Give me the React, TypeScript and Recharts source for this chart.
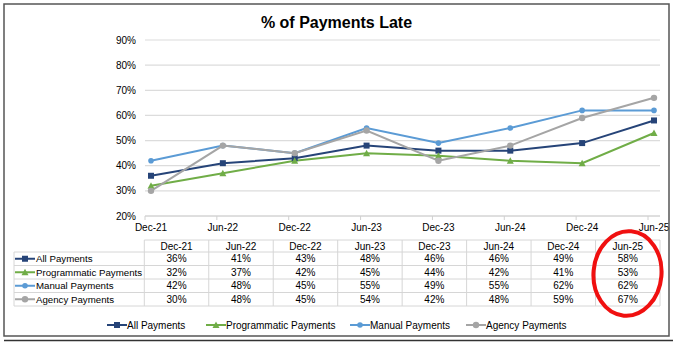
import React from 'react';
import { LineChart, Line, XAxis, YAxis, CartesianGrid } from 'recharts';

const categories = ['Dec-21', 'Jun-22', 'Dec-22', 'Jun-23', 'Dec-23', 'Jun-24', 'Dec-24', 'Jun-25'];
const allPayments = [36, 41, 43, 48, 46, 46, 49, 58];
const programmaticPayments = [32, 37, 42, 45, 44, 42, 41, 53];
const manualPayments = [42, 48, 45, 55, 49, 55, 62, 62];
const agencyPayments = [30, 48, 45, 54, 42, 48, 59, 67];
const yTicks = [20, 30, 40, 50, 60, 70, 80, 90];

const FONT = '"Liberation Sans", Arial, sans-serif';

type SeriesDef = { key: string; name: string; values: number[]; color: string; marker: 'square' | 'triangle' | 'circle' | 'circleL' };
const series: SeriesDef[] = [
  { key: 'all', name: 'All Payments', values: allPayments, color: '#264478', marker: 'square' },
  { key: 'prog', name: 'Programmatic Payments', values: programmaticPayments, color: '#70AD47', marker: 'triangle' },
  { key: 'manual', name: 'Manual Payments', values: manualPayments, color: '#5B9BD5', marker: 'circle' },
  { key: 'agency', name: 'Agency Payments', values: agencyPayments, color: '#A5A5A5', marker: 'circleL' },
];

const data = categories.map((c, i) => {
  const row: Record<string, any> = { cat: c };
  series.forEach((s) => { row[s.key] = s.values[i]; });
  return row;
});

function Marker({ type, cx, cy, color }: { type: string; cx: number; cy: number; color: string }) {
  if (type === 'square') return <rect x={cx - 3} y={cy - 3} width={6} height={6} fill={color} />;
  if (type === 'triangle') return <polygon points={`${cx},${cy - 3.5} ${cx + 3.5},${cy + 3} ${cx - 3.5},${cy + 3}`} fill={color} />;
  if (type === 'circle') return <circle cx={cx} cy={cy} r={2.8} fill={color} />;
  return <circle cx={cx} cy={cy} r={3.2} fill={color} />;
}

const makeDot = (s: SeriesDef) => (props: any) => {
  const { cx, cy, index } = props;
  if (cx == null || cy == null) return <g key={index} />;
  return <Marker key={index} type={s.marker} cx={cx} cy={cy} color={s.color} />;
};

const XTick = (props: any) => {
  const { x, y, payload } = props;
  return (
    <g>
      <line x1={x - 6} x2={x - 6} y1={y - 8} y2={y - 4} stroke="#d0d0d0" strokeWidth={1} />
      <text x={x} y={y} dy="0.71em" textAnchor="middle" fontSize={10} fill="#000" fontFamily={FONT}>{payload.value}</text>
    </g>
  );
};

const YTick = (props: any) => {
  const { y, payload } = props;
  return (
    <text x={136} y={y} dy="0.35em" textAnchor="end" fontSize={10} fill="#000" fontFamily={FONT}>{payload.value}%</text>
  );
};

function KeyIcon({ s, x, y }: { s: SeriesDef; x: number; y: number }) {
  return (
    <g>
      <line x1={x} x2={x + 20} y1={y} y2={y} stroke={s.color} strokeWidth={2} />
      <Marker type={s.marker} cx={x + 10} cy={y} color={s.color} />
    </g>
  );
}

export default function App() {
  const tableLeft = 14;
  const labelColRight = 144.3;
  const colW = (660 - labelColRight) / categories.length;
  const headTop = 240;
  const headBottom = 252;
  const rowH = 13.5;
  const tableBottom = headBottom + rowH * series.length;
  const legendItems = [
    { s: series[0], textX: 127 },
    { s: series[1], textX: 226 },
    { s: series[2], textX: 370 },
    { s: series[3], textX: 486 },
  ];
  return (
    <div style={{ position: 'absolute', left: 0, top: 0, width: 673, height: 342, background: '#fff', overflow: 'hidden' }}>
      <div style={{ position: 'absolute', left: 0, top: 0 }}>
        <LineChart width={673} height={342} data={data} margin={{ top: 40, right: 13, bottom: 96, left: 85 }}>
          <CartesianGrid horizontal vertical={false} stroke="#dcdcdc" strokeWidth={1.2} />
          <XAxis
            dataKey="cat"
            height={30}
            padding={{ left: 6, right: 6 }}
            tickLine={false}
            axisLine={{ stroke: '#d0d0d0' }}
            tick={<XTick />}
            interval={0}
          />
          <YAxis
            width={60}
            domain={[20, 90]}
            ticks={yTicks}
            tickLine={false}
            axisLine={false}
            tick={<YTick />}
          />
          {series.map((s) => (
            <Line
              key={s.key}
              dataKey={s.key}
              name={s.name}
              stroke={s.color}
              strokeWidth={2}
              dot={makeDot(s)}
              activeDot={false}
              isAnimationActive={false}
              type="linear"
            />
          ))}
        </LineChart>
      </div>
      <svg width={673} height={342} style={{ position: 'absolute', left: 0, top: 0 }} fontFamily={FONT}>
        <rect x={4} y={4} width={665} height={332} fill="none" stroke="#555" strokeWidth={1.5} />
        <line x1={4} x2={673} y1={340.5} y2={340.5} stroke="#333" strokeWidth={1.5} />
        <text x={336.5} y={28} textAnchor="middle" fontSize={16} fontWeight="bold" fill="#000">% of Payments Late</text>

        {/* data table */}
        <g stroke="#d6d6d6" strokeWidth={1}>
          <line x1={labelColRight} x2={660} y1={headTop} y2={headTop} />
          <line x1={tableLeft} x2={660} y1={headBottom} y2={headBottom} />
          {series.map((s, i) => (
            <line key={s.key} x1={tableLeft} x2={660} y1={headBottom + rowH * (i + 1)} y2={headBottom + rowH * (i + 1)} />
          ))}
          <line x1={tableLeft} x2={tableLeft} y1={headBottom} y2={tableBottom} />
          {categories.map((c, i) => (
            <line key={c} x1={labelColRight + colW * i} x2={labelColRight + colW * i} y1={headTop} y2={tableBottom} />
          ))}
          <line x1={660} x2={660} y1={headTop} y2={tableBottom} />
        </g>
        {categories.map((c, i) => (
          <text key={c} x={labelColRight + colW * (i + 0.5)} y={(headTop + headBottom) / 2} dy="0.35em" textAnchor="middle" fontSize={10} fill="#000">{c}</text>
        ))}
        {series.map((s, r) => {
          const cy = headBottom + rowH * (r + 0.5);
          return (
            <g key={s.key}>
              <KeyIcon s={s} x={15} y={cy} />
              <text x={36} y={cy} dy="0.35em" fontSize={9.7} fill="#000">{s.name}</text>
              {s.values.map((v, i) => (
                <text key={i} x={labelColRight + colW * (i + 0.5)} y={cy} dy="0.35em" textAnchor="middle" fontSize={10} fill="#000">{v}%</text>
              ))}
            </g>
          );
        })}

        {/* legend */}
        {legendItems.map(({ s, textX }) => (
          <g key={s.key}>
            <KeyIcon s={s} x={textX - 20} y={325} />
            <text x={textX} y={325} dy="0.35em" fontSize={10} fill="#000">{s.name}</text>
          </g>
        ))}

        <ellipse cx={627.5} cy={273.5} rx={34} ry={42.3} fill="none" stroke="#F01010" strokeWidth={4} transform="rotate(5 627.5 273.5)" />
      </svg>
    </div>
  );
}
